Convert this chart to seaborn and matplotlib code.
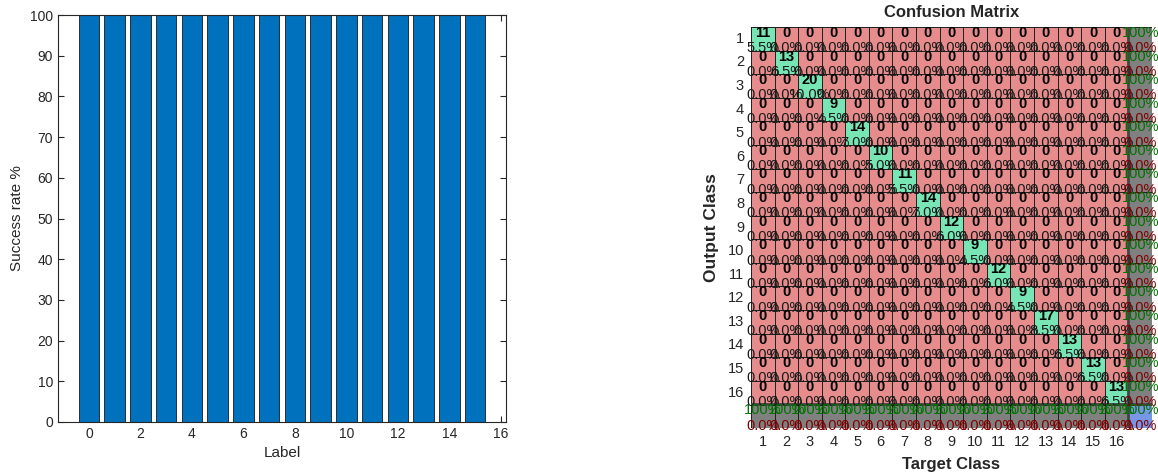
"""
Per-label success rate and confusion matrix (MATLAB plotconfusion style)
"""

import numpy as np
import pandas as pd
import matplotlib
matplotlib.use('Agg')
import matplotlib.pyplot as plt
from matplotlib.colors import ListedColormap
import seaborn as sns

# data
labels = list(range(16))
success_rate = [100, 100, 100, 100, 100, 100, 100, 100,
                100, 100, 100, 100, 100, 100, 100, 100]
class_names = [str(i) for i in range(1, 17)]
diag_counts = [11, 13, 20, 9, 14, 10, 11, 14, 12, 9, 12, 9, 17, 13, 13, 13]

sns.set_theme(style='white')
plt.rcParams['font.family'] = ['Liberation Sans', 'DejaVu Sans']

fig = plt.figure(figsize=(11.58, 4.75), dpi=100)

# ---------------- bar chart ----------------
ax1 = fig.add_axes([0.0501, 0.1116, 0.3869, 0.8568])
df = pd.DataFrame({'label': labels, 'rate': success_rate})
sns.barplot(data=df, x='label', y='rate', native_scale=True, color='#0072BD',
            saturation=1, width=0.8, edgecolor='#1a1a1a', linewidth=0.6, ax=ax1)
ax1.set_xlim(-1.2, 16.2)
ax1.set_ylim(0, 100)
ax1.set_xticks(range(0, 17, 2))
ax1.set_yticks(range(0, 101, 10))
ax1.set_xlabel('Label', fontsize=11, color='#262626')
ax1.set_ylabel('Success rate %', fontsize=11, color='#262626')
ax1.tick_params(direction='in', length=4, width=0.8, labelsize=10,
                colors='#262626', top=True, right=True, bottom=True, left=True,
                labelcolor='#262626')
for s in ax1.spines.values():
    s.set_visible(True)
    s.set_color('#262626')
    s.set_linewidth(0.8)

# ---------------- confusion matrix ----------------
n = len(diag_counts)
cm = np.diag(diag_counts)
total = cm.sum()

# colour codes: 0 red, 1 green, 2 gray, 3 blue
codes = np.zeros((n + 1, n + 1), dtype=int)
codes[np.arange(n), np.arange(n)] = 1
codes[n, :] = 2
codes[:, n] = 2
codes[n, n] = 3
cmap = ListedColormap([(230/255, 140/255, 140/255), (120/255, 230/255, 180/255),
                       (0.5, 0.5, 0.5), (120/255, 150/255, 230/255)])

ax2 = fig.add_axes([0.6485, 0.0989, 0.3463, 0.8442])
sns.heatmap(codes, cmap=cmap, vmin=-0.5, vmax=3.5, cbar=False,
            linewidths=0.6, linecolor='#222222', square=False, ax=ax2,
            xticklabels=class_names + [''], yticklabels=class_names + [''])
# thicker separators around the summary row / column
ax2.axhline(n, color='#444444', lw=2)
ax2.axvline(n, color='#444444', lw=2)

fs = 10.5
green_txt = (0, 0.45, 0)
red_txt = (0.5, 0, 0)
for i in range(n):
    for j in range(n):
        c = cm[i, j]
        ax2.text(j + 0.5, i + 0.25, str(c), ha='center', va='center',
                 fontsize=fs, fontweight='bold', color='black')
        ax2.text(j + 0.5, i + 0.9, f'{100 * c / total:.1f}%', ha='center',
                 va='center', fontsize=fs, color='#1a1a1a')

row_tot = cm.sum(axis=1)
col_tot = cm.sum(axis=0)
for i in range(n):
    p = 100 * cm[i, i] / row_tot[i]
    ax2.text(n + 0.5, i + 0.25, f'{p:.0f}%' if p == 100 else f'{p:.1f}%',
             ha='center', va='center', fontsize=fs, color=green_txt)
    ax2.text(n + 0.5, i + 0.9, f'{100 - p:.1f}%', ha='center', va='center',
             fontsize=fs, color=red_txt)
for j in range(n):
    p = 100 * cm[j, j] / col_tot[j]
    ax2.text(j + 0.5, n + 0.25, f'{p:.0f}%' if p == 100 else f'{p:.1f}%',
             ha='center', va='center', fontsize=fs, color=green_txt)
    ax2.text(j + 0.5, n + 0.9, f'{100 - p:.1f}%', ha='center', va='center',
             fontsize=fs, color=red_txt)
acc = 100 * np.trace(cm) / total
ax2.text(n + 0.5, n + 0.25, f'{acc:.0f}%', ha='center', va='center',
         fontsize=fs, color=green_txt)
ax2.text(n + 0.5, n + 0.9, f'{100 - acc:.1f}%', ha='center', va='center',
         fontsize=fs, color=red_txt)

ax2.set_title('Confusion Matrix', fontsize=12, fontweight='bold', pad=7)
ax2.set_xlabel('Target Class', fontsize=12, fontweight='bold', labelpad=6)
ax2.set_ylabel('Output Class', fontsize=12.5, fontweight='bold', labelpad=6)
ax2.tick_params(length=0, labelsize=10.5, colors='#262626', pad=5)
plt.setp(ax2.get_yticklabels(), rotation=0)
plt.setp(ax2.get_xticklabels(), rotation=0)

plt.savefig('out.png', dpi=100)
plt.close()
